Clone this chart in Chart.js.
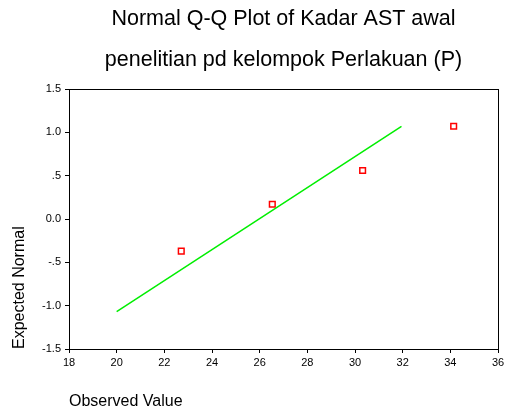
<!DOCTYPE html>
<html>
<head>
<meta charset="utf-8">
<script src="https://cdn.jsdelivr.net/npm/chart.js@4"></script>
<style>
html,body{margin:0;padding:0;background:#fff;}
#wrap{width:510px;height:413px;}
</style>
</head>
<body>
<div id="wrap"><canvas id="c" width="510" height="413"></canvas></div>
<script>
// Data
const titleLines = ["Normal Q-Q Plot of Kadar AST awal", "penelitian pd kelompok Perlakuan (P)"];
const observedValues = [22.71, 26.53, 30.32, 34.14];
const expectedNormal = [-0.37, 0.17, 0.56, 1.07];
const refLineX = [20.0, 31.95];
const refLineY = [-1.07, 1.07];
const xTicks = [18, 20, 22, 24, 26, 28, 30, 32, 34, 36];
const yTicks = [-1.5, -1.0, -0.5, 0.0, 0.5, 1.0, 1.5];
const yTickLabels = ["-1.5", "-1.0", "-.5", "0.0", ".5", "1.0", "1.5"];

const FONT = "'Liberation Sans', Arial, Helvetica, sans-serif";

const boxPlugin = {
  id: 'boxPlugin',
  beforeDatasetsDraw(chart) {
    const a = chart.chartArea, ctx = chart.ctx;
    ctx.save();
    ctx.strokeStyle = '#000';
    ctx.lineWidth = 1;
    ctx.strokeRect(Math.round(a.left) + 0.5, Math.round(a.top) + 0.5, Math.round(a.right - a.left), Math.round(a.bottom - a.top));
    ctx.restore();
  }
};

new Chart(document.getElementById('c'), {
  type: 'scatter',
  data: {
    datasets: [
      {
        label: 'Reference',
        data: refLineX.map((x, i) => ({x: x, y: refLineY[i]})),
        showLine: true,
        borderColor: '#00ee00',
        borderWidth: 1.5,
        pointRadius: 0,
        fill: false
      },
      {
        label: 'Observed',
        data: observedValues.map((x, i) => ({x: x, y: expectedNormal[i]})),
        showLine: false,
        pointStyle: 'rect',
        pointRadius: 4,
        borderColor: '#ff0000',
        backgroundColor: 'rgba(0,0,0,0)',
        borderWidth: 1.5
      }
    ]
  },
  options: {
    responsive: false,
    animation: false,
    layout: { padding: { left: 0, right: 12, top: 0, bottom: 0 } },
    plugins: {
      legend: { display: false },
      tooltip: { enabled: false },
      title: {
        display: true,
        fullSize: false,
        text: titleLines,
        color: '#000',
        font: { family: FONT, size: 21.5, weight: 'normal', lineHeight: 1.907 },
        padding: { top: -1, bottom: 8 }
      }
    },
    scales: {
      x: {
        type: 'linear',
        min: 18, max: 36,
        afterBuildTicks(s) { s.ticks = xTicks.map(v => ({value: v})); },
        afterFit(s) { s.height = 64; },
        grid: { display: true, drawOnChartArea: false, drawTicks: true, tickLength: 4, color: '#000', tickColor: '#000' },
        border: { display: true, color: '#000', width: 1 },
        ticks: { color: '#000', font: { family: FONT, size: 11 }, padding: 3, maxRotation: 0, autoSkip: false },
        title: { display: true, text: 'Observed Value', align: 'start', color: '#000', font: { family: FONT, size: 16 }, padding: { top: 0, bottom: 2 } }
      },
      y: {
        type: 'linear',
        min: -1.5, max: 1.5,
        afterBuildTicks(s) { s.ticks = yTicks.map(v => ({value: v})); },
        afterFit(s) { s.width = 69; },
        grid: { display: true, drawOnChartArea: false, drawTicks: true, tickLength: 4, color: '#000', tickColor: '#000' },
        border: { display: true, color: '#000', width: 1 },
        ticks: {
          color: '#000', font: { family: FONT, size: 11 }, padding: 4, autoSkip: false,
          callback(v) { const i = yTicks.findIndex(t => Math.abs(t - v) < 1e-9); return i >= 0 ? yTickLabels[i] : ''; }
        },
        title: { display: true, text: 'Expected Normal', align: 'start', color: '#000', font: { family: FONT, size: 16 }, padding: { top: 10, bottom: 0 } }
      }
    }
  },
  plugins: [boxPlugin]
});
</script>
</body>
</html>
